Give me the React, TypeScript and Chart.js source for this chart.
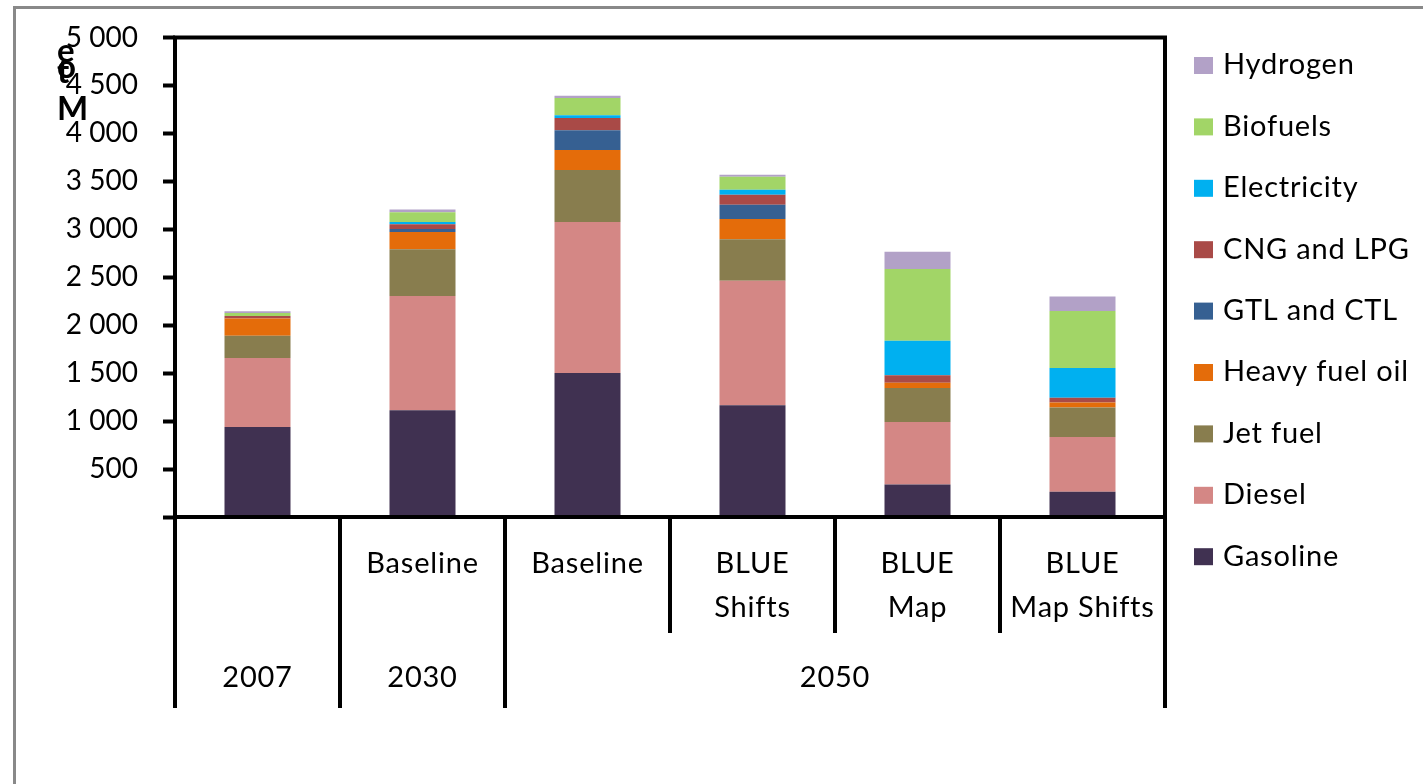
import React, { useEffect, useRef } from 'react';
import { Chart, registerables } from 'chart.js';

Chart.register(...registerables);

// Scenario axis: first level (scenario names, split into lines) and second level (years)
const categories = ['2007', '2030 Baseline', '2050 Baseline', '2050 BLUE Shifts', '2050 BLUE Map', '2050 BLUE Map Shifts'];
const scenarioLines: string[][] = [[], ['Baseline'], ['Baseline'], ['BLUE', 'Shifts'], ['BLUE', 'Map'], ['BLUE', 'Map Shifts']];
const yearLabels = ['2007', '2030', '2050'];
const yearSpans = [1, 1, 4];

// Transport fuel demand, Mtoe
const gasoline = [938, 1112, 1502, 1164, 340, 264];
const diesel = [720, 1193, 1574, 1300, 651, 570];
const jetFuel = [232, 486, 542, 431, 354, 309];
const heavyFuelOil = [181, 181, 209, 212, 55, 52];
const gtlCtl = [0, 32, 205, 150, 0, 0];
const cngLpg = [25, 49, 129, 104, 77, 49];
const electricity = [0, 24, 27, 52, 361, 310];
const biofuels = [30, 101, 181, 136, 748, 594];
const hydrogen = [20, 28, 24, 21, 180, 152];

const yTicksMax = 5000;
const yTickStep = 500;

const FONT = 'Lato, "Noto Sans", sans-serif';

function formatThousands(v: number): string {
  if (v === 0) return '';
  if (v < 1000) return String(v);
  return `${Math.floor(v / 1000)} ${String(v % 1000).padStart(3, '0')}`;
}

const framePlugin = {
  id: 'frameAndLabels',
  beforeDraw(chart: any) {
    const { ctx, width, height } = chart;
    ctx.save();
    ctx.fillStyle = '#ffffff';
    ctx.fillRect(0, 0, width, height);
    ctx.restore();
  },
  afterDraw(chart: any) {
    const { ctx, chartArea } = chart;
    const xs = chart.scales.x;
    const { left, right, top, bottom } = chartArea;
    const n = categories.length;
    const catW = xs.getPixelForValue(1) - xs.getPixelForValue(0);
    const boundary = (i: number) => xs.getPixelForValue(i) - catW / 2;

    ctx.save();
    // outer grey frame
    ctx.strokeStyle = '#898989';
    ctx.lineWidth = 3;
    ctx.strokeRect(14.5, 7.5, 3000, 3000);

    // plot frame
    ctx.strokeStyle = '#000000';
    ctx.lineWidth = 4;
    ctx.strokeRect(left, top, right - left, bottom - top);

    // category separators
    const groupEdges = new Set<number>([0]);
    let acc = 0;
    yearSpans.forEach((s) => { acc += s; groupEdges.add(acc); });
    ctx.lineCap = 'butt';
    for (let i = 0; i <= n; i++) {
      const x = boundary(i);
      const yEnd = groupEdges.has(i) ? bottom + 191 : bottom + 116;
      ctx.beginPath();
      ctx.moveTo(x, bottom);
      ctx.lineTo(x, yEnd);
      ctx.stroke();
    }

    // scenario labels
    ctx.fillStyle = '#000000';
    ctx.font = `29px ${FONT}`;
    (ctx as any).letterSpacing = '0.8px';
    ctx.textAlign = 'center';
    ctx.textBaseline = 'middle';
    scenarioLines.forEach((lines, i) => {
      const cx = xs.getPixelForValue(i);
      lines.forEach((line, j) => {
        ctx.fillText(line, cx, bottom + 47 + j * 44);
      });
    });

    // year labels
    let start = 0;
    yearLabels.forEach((lab, k) => {
      const end = start + yearSpans[k];
      const cx = (boundary(start) + boundary(end)) / 2;
      ctx.fillText(lab, cx, bottom + 161);
      start = end;
    });

    // legend (top of stack first)
    const ds = chart.data.datasets;
    ctx.textAlign = 'left';
    for (let k = 0; k < ds.length; k++) {
      const d = ds[ds.length - 1 - k];
      const cy = 65 + k * 61.4;
      ctx.fillStyle = d.backgroundColor;
      ctx.fillRect(1194, cy - 8, 19, 17);
      ctx.fillStyle = '#000000';
      ctx.fillText(d.label, 1223, cy);
    }

    // stacked axis title
    (ctx as any).letterSpacing = '0px';
    ctx.font = `bold 33px ${FONT}`;
    ctx.textBaseline = 'alphabetic';
    const title: [string, number][] = [['e', 62], ['o', 78], ['t', 83], ['M', 120]];
    title.forEach(([ch, y]) => ctx.fillText(ch, 57, y));
    ctx.restore();
  },
};

export default function App() {
  const ref = useRef<HTMLCanvasElement | null>(null);

  useEffect(() => {
    if (!ref.current) return;
    const mk = (label: string, data: number[], color: string) => ({
      label,
      data,
      backgroundColor: color,
      borderWidth: 0,
      barPercentage: 0.4,
      categoryPercentage: 1.0,
    });
    const chart = new Chart(ref.current, {
      type: 'bar',
      data: {
        labels: categories,
        datasets: [
          mk('Gasoline', gasoline, '#403151'),
          mk('Diesel', diesel, '#d48785'),
          mk('Jet fuel', jetFuel, '#887d4e'),
          mk('Heavy fuel oil', heavyFuelOil, '#e46c0a'),
          mk('GTL and CTL', gtlCtl, '#366092'),
          mk('CNG and LPG', cngLpg, '#a94a47'),
          mk('Electricity', electricity, '#00b0f0'),
          mk('Biofuels', biofuels, '#a2d567'),
          mk('Hydrogen', hydrogen, '#b2a1c7'),
        ],
      },
      options: {
        responsive: false,
        animation: false,
        layout: { padding: { top: 37.5, right: 258, bottom: 267, left: 0 } },
        plugins: { legend: { display: false }, tooltip: { enabled: false } },
        scales: {
          x: { display: false, stacked: true },
          y: {
            stacked: true,
            min: 0,
            max: yTicksMax,
            afterFit: (scale: any) => {
              scale.width = 175;
              scale.paddingTop = 0;
              scale.paddingBottom = 0;
            },
            border: { display: false },
            grid: {
              drawOnChartArea: false,
              drawTicks: true,
              tickLength: 12,
              tickColor: '#000000',
              tickWidth: 4,
            },
            ticks: {
              stepSize: yTickStep,
              padding: 25,
              color: '#000000',
              font: { family: FONT, size: 28 },
              callback: (v: any) => formatThousands(Number(v)),
            },
          },
        },
      },
      plugins: [framePlugin],
    });
    return () => chart.destroy();
  }, []);

  return (
    <div style={{ position: 'absolute', left: 0, top: 0, width: 1423, height: 784, background: '#fff' }}>
      <canvas ref={ref} width={1423} height={784} style={{ display: 'block' }} />
    </div>
  );
}
